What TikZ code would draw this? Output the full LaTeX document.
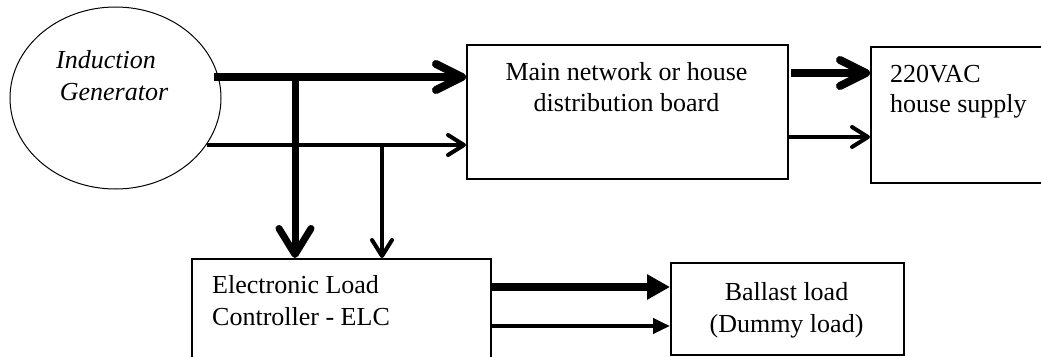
\documentclass[tikz,border=0pt]{standalone}
\usepackage{fontspec}
\setmainfont{Liberation Serif}
\usetikzlibrary{arrows.meta,shapes.geometric}
\begin{document}
\begin{tikzpicture}[x=1pt,y=-1pt,
  box/.style={draw,line width=1.5pt,rectangle,inner sep=0pt,anchor=north west},
  txt/.style={font=\fontsize{26}{31}\selectfont,inner sep=0pt},
  heavyarr/.style={line width=8pt,-{Straight Barb[length=26pt,width=26pt,round]}},
  heavyvarr/.style={line width=7pt,-{Straight Barb[length=26pt,width=32pt,round]}},
  lightarr/.style={line width=4pt,-{Straight Barb[length=16pt,width=20pt,round]}},
  heavytri/.style={line width=8pt,-{Triangle[length=23pt,width=24pt]}},
  lighttri/.style={line width=4pt,-{Triangle[length=17pt,width=15pt]}}
]
\useasboundingbox (0,0) rectangle (1041,356);
% shapes
\node[ellipse,draw,line width=1pt,minimum width=211pt,minimum height=182pt,inner sep=0pt] (gen) at (115.5,98) {};
\node[box,minimum width=321pt,minimum height=134pt] (main) at (466,44) {};
\node[box,minimum width=180pt,minimum height=136pt] (house) at (870,46) {};
\node[box,minimum width=299pt,minimum height=120pt] (elc) at (191,258) {};
\node[box,minimum width=233pt,minimum height=92pt] (ballast) at (670,262) {};
% texts
\node[txt,anchor=base] (gen1) at (106,68) {\itshape Induction};
\node[txt,anchor=base] (gen2) at (114,100) {\itshape Generator};
\node[txt,anchor=base] (main1) at (626.5,80) {Main network or house};
\node[txt,anchor=base] (main2) at (626.5,111) {distribution board};
\node[txt,anchor=base west] (house1) at (890,82) {220VAC};
\node[txt,anchor=base west] (house2) at (890,112) {house supply};
\node[txt,anchor=base west] (elc1) at (212,293) {Electronic Load};
\node[txt,anchor=base west] (elc2) at (212,325) {Controller - ELC};
\node[txt,anchor=base] (bal1) at (786.5,300) {Ballast load};
\node[txt,anchor=base] (bal2) at (786.5,332) {(Dummy load)};
% connector points
\coordinate (g1) at (214,77);
\coordinate (g2) at (207,145);
\coordinate (j1) at (295,77);
\coordinate (j2) at (382,145);
\coordinate (m1) at (791,73);
\coordinate (m2) at (789,137);
\coordinate (e1) at (490,287);
\coordinate (e2) at (490,326);
% connectors
\draw[heavyvarr] (j1) -- (j1 |- elc.north);
\draw[lightarr] (j2) -- (j2 |- elc.north);
\draw[heavyarr] (g1) -- (main.west |- g1);
\draw[lightarr] (g2) -- (main.west |- g2);
\draw[heavyarr] (m1) -- (house.west |- m1);
\draw[lightarr] (m2) -- (house.west |- m2);
\draw[heavytri] (e1) -- (ballast.west |- e1);
\draw[lighttri] (e2) -- (ballast.west |- e2);
\end{tikzpicture}
\end{document}
